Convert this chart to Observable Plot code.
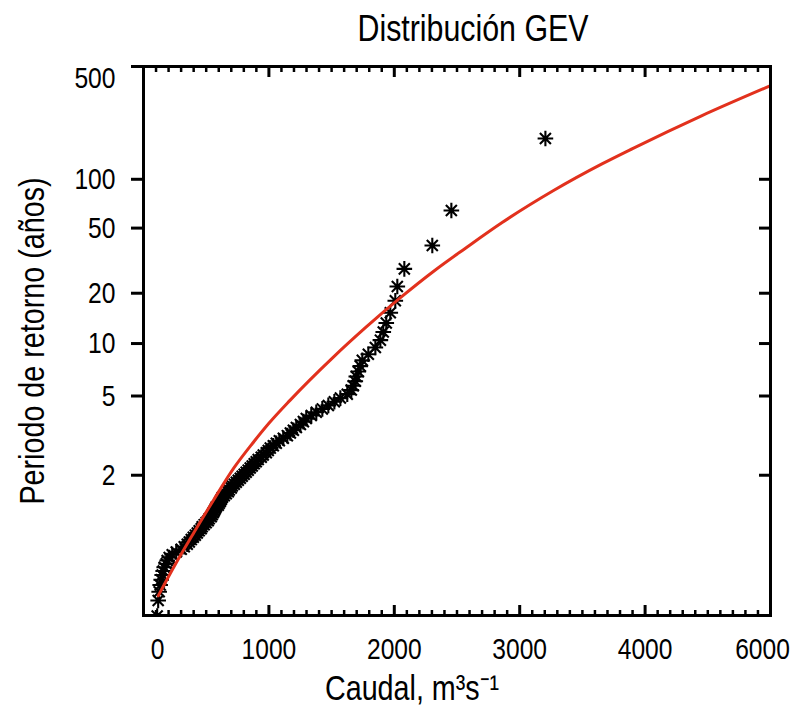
<!DOCTYPE html>
<html>
<head>
<meta charset="utf-8">
<script src="https://cdn.jsdelivr.net/npm/d3@7"></script>
<script src="https://cdn.jsdelivr.net/npm/@observablehq/plot@0.6"></script>
<style>
  html, body { margin: 0; padding: 0; background: #fff; }
</style>
</head>
<body>
<div id="chart"></div>
<script>
// Observed annual peak flows (m3/s), ranked from largest (rank 1) to smallest
const caudalObs = [3205, 2455, 2303, 2080, 2024, 2008, 1968, 1936, 1912, 1889,
  1849, 1793, 1745, 1729, 1713, 1697, 1689, 1673, 1657, 1625,
  1570, 1522, 1474, 1426, 1378, 1338, 1298, 1275, 1251, 1219,
  1195, 1171, 1147, 1115, 1083, 1059, 1035, 1011, 995, 979,
  955, 939, 915, 899, 883, 867, 851, 835, 819, 803,
  787, 772, 756, 740, 724, 708, 700, 684, 676, 660,
  644, 628, 620, 612, 604, 596, 580, 572, 564, 556,
  548, 540, 524, 516, 500, 484, 468, 460, 444, 429,
  413, 397, 381, 365, 349, 325, 301, 261, 229, 205,
  189, 181, 165, 157, 149, 141, 133, 125, 117, 109];
// Empirical return period (years) of each observation
const periodoObs = [178.79, 64.179, 39.109, 28.124, 21.956, 18.007, 15.262, 13.243, 11.696, 10.473,
  9.4811, 8.6609, 7.9713, 7.3835, 6.8764, 6.4344, 6.0459, 5.7016, 5.3944, 5.1186,
  4.8696, 4.6438, 4.4379, 4.2496, 4.0765, 3.9171, 3.7696, 3.6328, 3.5056, 3.3870,
  3.2762, 3.1724, 3.0749, 2.9833, 2.8970, 2.8155, 2.7385, 2.6656, 2.5965, 2.5308,
  2.4684, 2.4091, 2.3524, 2.2984, 2.2468, 2.1975, 2.1503, 2.1051, 2.0618, 2.0202,
  1.9802, 1.9418, 1.9049, 1.8693, 1.8350, 1.8020, 1.7702, 1.7394, 1.7097, 1.6810,
  1.6532, 1.6264, 1.6004, 1.5752, 1.5508, 1.5272, 1.5042, 1.4820, 1.4603, 1.4393,
  1.4189, 1.3991, 1.3798, 1.3611, 1.3428, 1.3250, 1.3077, 1.2909, 1.2744, 1.2584,
  1.2428, 1.2276, 1.2127, 1.1982, 1.1840, 1.1702, 1.1567, 1.1434, 1.1305, 1.1179,
  1.1056, 1.0935, 1.0817, 1.0701, 1.0588, 1.0477, 1.0369, 1.0262, 1.0158, 1.0056];

// Fitted GEV curve (flow, return period)
const caudalGEV  = [118, 260, 400, 558, 725, 870, 1000, 1168, 1512, 1772, 2049, 2322, 2565, 2860, 3270, 3660, 3900, 4450, 5000];
const periodoGEV = [1.021, 1.096, 1.258, 1.591, 2.169, 2.816, 3.56, 4.73, 8.30, 12.45, 18.8, 27.5, 37.5, 54.1, 85.2, 124.9, 154.8, 247, 380];

// Axis ticks
const yTickPeriods = [2, 5, 10, 20, 50, 100, 500];
const yTickLabels  = ["2", "5", "10", "20", "50", "100", "500"];
const xTickValues  = [0, 1000, 2000, 3000, 4000, 5000];
const xTickLabels  = ["0", "1000", "2000", "3000", "4000", "6000"];

const titleText = "Distribución GEV";
const xLabelText = "Caudal, m\u00B3s\u207B\u00B9";
const yLabelText = "Periodo de retorno (años)";

// Gumbel reduced variate used for the vertical axis
const gumbel = T => -Math.log(-Math.log(1 - 1 / T));

const obs = caudalObs.map((q, i) => ({Q: q, T: periodoObs[i]}));
const fit = caudalGEV.map((q, i) => ({Q: q, T: periodoGEV[i]}));
const yTicksU = yTickPeriods.map(gumbel);
const yLab = u => yTickLabels[yTicksU.indexOf(u)];
const xLab = v => xTickLabels[xTickValues.indexOf(v)];
const minorX = d3.range(0, 5001, 100).filter(v => v % 1000 !== 0);

const FONT = '"Liberation Sans", Arial, Helvetica, sans-serif';

// 8-armed asterisk marker
const asterisk8 = {
  draw(ctx, size) {
    const r = Math.sqrt(size / Math.PI);
    const d = r * Math.SQRT1_2;
    ctx.moveTo(-r, 0); ctx.lineTo(r, 0);
    ctx.moveTo(0, -r); ctx.lineTo(0, r);
    ctx.moveTo(-d, -d); ctx.lineTo(d, d);
    ctx.moveTo(-d, d); ctx.lineTo(d, -d);
  }
};

const chart = Plot.plot({
  width: 801,
  height: 708,
  marginLeft: 143,
  marginRight: 31,
  marginTop: 66,
  marginBottom: 93,
  style: {fontFamily: FONT, fontSize: "30px", color: "black", background: "white"},
  x: {domain: [0, 5000]},
  y: {domain: [-1.64, gumbel(500)]},
  marks: [
    Plot.dot(obs, {x: "Q", y: d => gumbel(d.T), symbol: asterisk8, r: 7.8, stroke: "black", strokeWidth: 2.1, fill: "none", clip: true}),
    Plot.line(fit, {x: "Q", y: d => gumbel(d.T), stroke: "#e2311d", strokeWidth: 3, curve: "monotone-x", clip: true}),
    Plot.frame({stroke: "black", strokeWidth: 3}),
    // y ticks: left outward, right inward
    Plot.axisY({ticks: yTicksU, anchor: "left", tickSize: 12, strokeWidth: 3, tickFormat: () => "", label: null}),
    Plot.axisY({ticks: yTicksU, anchor: "right", tickSize: 12, insetRight: 12, strokeWidth: 3, tickFormat: () => "", label: null}),
    Plot.axisY({ticks: yTicksU.slice(0, 6), anchor: "left", tickSize: 0, tickPadding: 28, tickFormat: yLab, fontSize: 30, label: null}),
    Plot.axisY({ticks: yTicksU.slice(6), anchor: "left", tickSize: 0, tickPadding: 28, dy: 12, tickFormat: yLab, fontSize: 30, label: null}),
    // x ticks: major + minor, inward on top and bottom
    Plot.axisX({ticks: xTickValues, anchor: "bottom", tickSize: 10, insetBottom: 10, strokeWidth: 3, tickFormat: () => "", label: null}),
    Plot.axisX({ticks: xTickValues, anchor: "top", tickSize: 10, insetTop: 10, strokeWidth: 3, tickFormat: () => "", label: null}),
    Plot.axisX({ticks: minorX, anchor: "bottom", tickSize: 5, insetBottom: 5, strokeWidth: 2.5, tickFormat: () => "", label: null}),
    Plot.axisX({ticks: minorX, anchor: "top", tickSize: 5, insetTop: 5, strokeWidth: 2.5, tickFormat: () => "", label: null}),
    // x tick labels
    Plot.axisX({ticks: xTickValues.slice(1, 5), anchor: "bottom", tickSize: 0, tickPadding: 22, tickFormat: xLab, fontSize: 30, label: null}),
    Plot.axisX({ticks: xTickValues.slice(0, 1), anchor: "bottom", tickSize: 0, tickPadding: 22, dx: 14, tickFormat: xLab, fontSize: 30, label: null}),
    Plot.axisX({ticks: xTickValues.slice(5), anchor: "bottom", tickSize: 0, tickPadding: 22, dx: -8, tickFormat: xLab, fontSize: 30, label: null}),
    // titles
    Plot.text([titleText], {frameAnchor: "top", dy: -37, dx: 16, fontSize: 37, lineAnchor: "middle", textAnchor: "middle"}),
    Plot.text([xLabelText], {frameAnchor: "bottom", dy: 73, dx: -45, fontSize: 35, lineAnchor: "middle", textAnchor: "middle"}),
    Plot.text([yLabelText], {frameAnchor: "left", dx: -111, rotate: -90, fontSize: 35, lineAnchor: "middle", textAnchor: "middle"})
  ]
});
document.getElementById("chart").appendChild(chart);

// Narrow (condensed) rendering of the Helvetica-like lettering of the original
chart.querySelectorAll("text").forEach(t => {
  const w = t.getComputedTextLength();
  if (w > 0) {
    t.setAttribute("textLength", (w * 0.82).toFixed(1));
    t.setAttribute("lengthAdjust", "spacingAndGlyphs");
  }
});
</script>
</body>
</html>
